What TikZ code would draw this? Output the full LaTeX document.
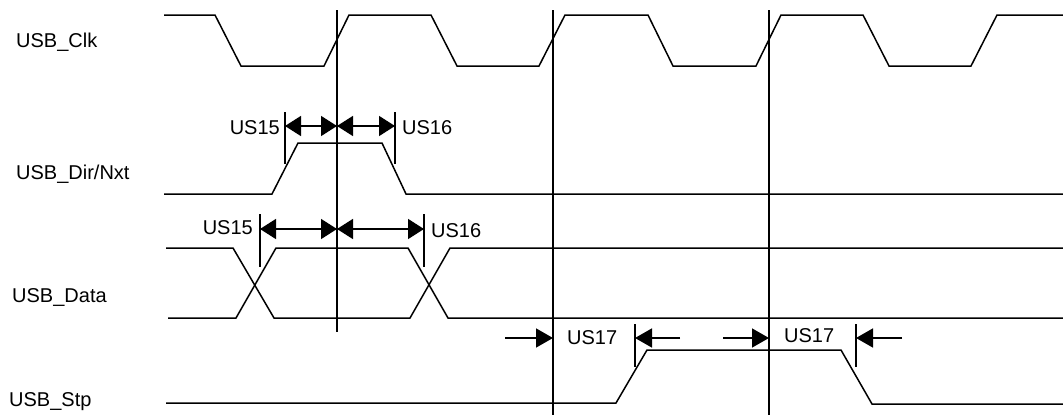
\documentclass[tikz,border=0pt]{standalone}
\usepackage{fontspec}
\setmainfont{Liberation Sans}
\usetikzlibrary{arrows.meta}
\tikzset{
  sig/.style={line width=1.5pt, line join=miter},
  vline/.style={line width=2pt},
  tick/.style={line width=2pt},
  dim/.style={line width=1.5pt, {Triangle[length=16pt,width=20pt]}-{Triangle[length=16pt,width=20pt]}},
  oneway/.style={line width=1.5pt, -{Triangle[length=17pt,width=19pt]}},
  lbl/.style={inner sep=0pt, font=\fontsize{20}{24}\selectfont},
}
\begin{document}
\begin{tikzpicture}[x=1pt,y=-1pt]
\useasboundingbox (0,0) rectangle (1063,415);
% signal names
\node[lbl, anchor=base west] (nclk) at (16,47.5) {USB\_Clk};
\node[lbl, anchor=base west] (ndir) at (16,179) {USB\_Dir/Nxt};
\node[lbl, anchor=base west] (ndata) at (12,302) {USB\_Data};
\node[lbl, anchor=base west] (nstp) at (9,406) {USB\_Stp};
% clock
\draw[sig] (164,15) -- (215,15) -- (241,66) -- (324,66) -- (349,15) -- (431,15) -- (457,66) -- (539,66) -- (565,15) -- (648,15) -- (673,66) -- (756,66) -- (781,15) -- (863,15) -- (889,66) -- (971,66) -- (997,15) -- (1063,15);
% dir/nxt
\draw[sig] (164,194) -- (272,194) -- (298,143) -- (382,143) -- (406,194) -- (1063,194);
% data
\draw[sig] (166,248) -- (233,248) -- (274,318) -- (410,318) -- (450,248) -- (1063,248);
\draw[sig] (168,318) -- (236,318) -- (276,248) -- (408,248) -- (448,318) -- (1063,318);
% stp
\draw[sig] (166,403) -- (616,403) -- (647,350) -- (841,350) -- (872,404) -- (1063,404);
% reference verticals
\coordinate (v1t) at (337,10); \coordinate (v1b) at (337,332);
\coordinate (v2t) at (553,10); \coordinate (v2b) at (553,415);
\coordinate (v3t) at (769,10); \coordinate (v3b) at (769,415);
\draw[vline] (v1t) -- (v1b);
\draw[vline] (v2t) -- (v2b);
\draw[vline] (v3t) -- (v3b);
% US15/US16 on Dir/Nxt
\draw[tick] (285,112) -- (285,164);
\draw[tick] (395,112) -- (395,164);
\coordinate (d1) at (285,126); \coordinate (d2) at (337,126); \coordinate (d3) at (395,126);
\draw[dim] (d1) -- (d2);
\draw[dim] (d2) -- (d3);
\node[lbl, anchor=base east] (t15a) at (280,134) {US15};
\node[lbl, anchor=base west] (t16a) at (402,134) {US16};
% US15/US16 on Data
\draw[tick] (260,214) -- (260,267);
\draw[tick] (424,214) -- (424,267);
\coordinate (e1) at (260,229); \coordinate (e2) at (337,229); \coordinate (e3) at (424,229);
\draw[dim] (e1) -- (e2);
\draw[dim] (e2) -- (e3);
\node[lbl, anchor=base east] (t15b) at (253,234) {US15};
\node[lbl, anchor=base west] (t16b) at (431,237.5) {US16};
% US17 on Stp
\draw[tick] (635,324) -- (635,367);
\draw[tick] (856,324) -- (856,367);
\coordinate (f1s) at (505,338); \coordinate (f1e) at (553,338);
\coordinate (f2s) at (680,338); \coordinate (f2e) at (635,338);
\coordinate (f3s) at (723,338); \coordinate (f3e) at (769,338);
\coordinate (f4s) at (902,338); \coordinate (f4e) at (856,338);
\draw[oneway] (f1s) -- (f1e);
\draw[oneway] (f2s) -- (f2e);
\draw[oneway] (f3s) -- (f3e);
\draw[oneway] (f4s) -- (f4e);
\node[lbl, anchor=base west] (t17a) at (567,344) {US17};
\node[lbl, anchor=base west] (t17b) at (784,342) {US17};
\end{tikzpicture}
\end{document}
